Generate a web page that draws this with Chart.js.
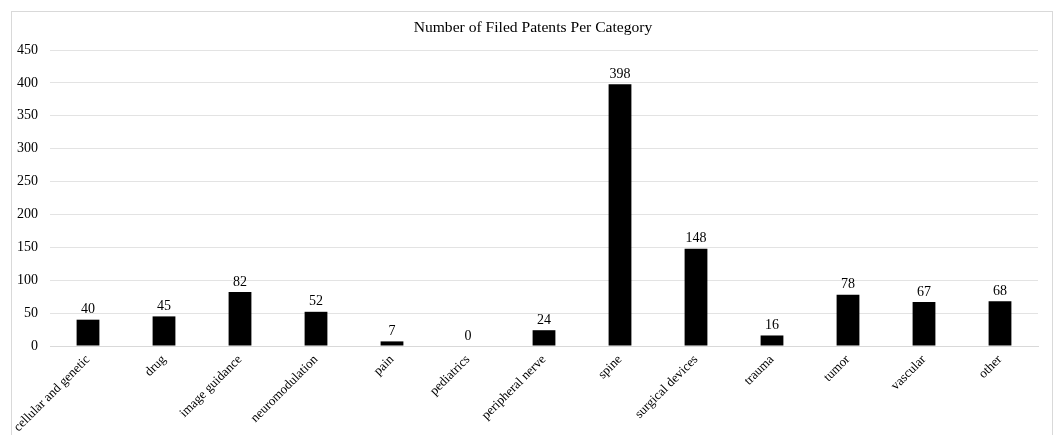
<!DOCTYPE html>
<html><head><meta charset="utf-8">
<script src="https://cdn.jsdelivr.net/npm/chart.js@4/dist/chart.umd.min.js"></script>
<style>
html,body{margin:0;padding:0;background:#fff;overflow:hidden;}
#frame{position:absolute;left:11px;top:11px;width:1042px;height:440px;border:1px solid #d9d9d9;box-sizing:border-box;}
#wrap{position:absolute;left:0;top:0;width:1058px;height:441px;}
</style></head>
<body>
<div id="frame"></div>
<div id="wrap"><canvas id="c" width="1058" height="441"></canvas></div>
<script>
const categories = ["cellular and genetic","drug","image guidance","neuromodulation","pain","pediatrics","peripheral nerve","spine","surgical devices","trauma","tumor","vascular","other"];
const patents = [40,45,82,52,7,0,24,398,148,16,78,67,68];
const yTicks = [0,50,100,150,200,250,300,350,400,450];
const chartTitle = "Number of Filed Patents Per Category";

const FONT = "'Liberation Serif','Times New Roman',serif";

const labelPlugin = {
  id:'barLabels',
  afterDatasetsDraw(chart){
    const ctx = chart.ctx;
    const meta = chart.getDatasetMeta(0);
    ctx.save();
    ctx.font = "14px " + FONT;
    ctx.fillStyle = "#000";
    ctx.textAlign = "center";
    ctx.textBaseline = "bottom";
    meta.data.forEach((bar,i)=>{
      ctx.fillText(String(patents[i]), bar.x, bar.y - 3);
    });
    // title
    ctx.font = "15.6px " + FONT;
    ctx.textBaseline = "middle";
    ctx.fillText(chartTitle, 533, 28);
    ctx.restore();
  }
};

new Chart(document.getElementById('c'),{
  type:'bar',
  data:{labels:categories,datasets:[{data:patents,backgroundColor:'#000',borderColor:'#000',borderWidth:0,barPercentage:0.3,categoryPercentage:1.0}]},
  options:{
    responsive:false,animation:false,
    layout:{padding:{left:5,right:20,top:50,bottom:0}},
    plugins:{
      legend:{display:false},tooltip:{enabled:false},title:{display:false}
    },
    scales:{
      x:{
        grid:{display:false,drawTicks:false},
        border:{display:true,color:'#d9d9d9'},
        ticks:{color:'#000',font:{family:FONT,size:13},minRotation:45,maxRotation:45,padding:6,autoSkip:false}
      },
      y:{
        min:0,max:450,
        afterBuildTicks(axis){axis.ticks = yTicks.map(v=>({value:v}));},
        grid:{color:'#e3e3e3',drawTicks:false},
        border:{display:false},
        ticks:{color:'#000',font:{family:FONT,size:14},padding:12}
      }
    }
  },
  plugins:[labelPlugin]
});
</script>
</body></html>
